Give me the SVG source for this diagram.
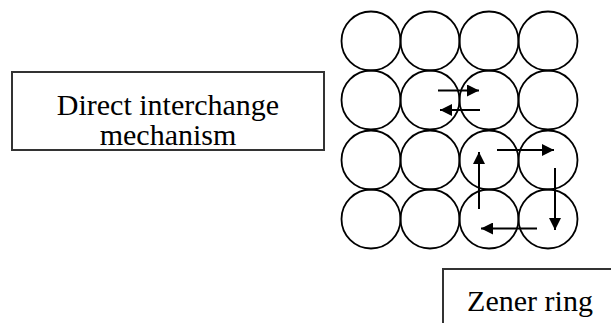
<svg xmlns="http://www.w3.org/2000/svg" width="611" height="323" viewBox="0 0 611 323">
<style>
.box{fill:#fff;stroke:#333;stroke-width:2}
.atom{fill:none;stroke:#000;stroke-width:1.8}
.arr{stroke:#000;stroke-width:2;fill:none;marker-end:url(#ah)}
.lbl{font-family:"Liberation Serif","Times New Roman",serif;font-size:30px;fill:#000;text-anchor:middle}
</style>
<defs>
<marker id="ah" viewBox="0 0 12 12" refX="12" refY="6" markerWidth="12" markerHeight="12" markerUnits="userSpaceOnUse" orient="auto">
<path d="M0,0 L12,6 L0,12 Z" fill="#000"/>
</marker>
</defs>
<rect width="611" height="323" fill="#fff"/>
<g id="direct-interchange">
<rect class="box" x="12" y="72" width="312" height="78"/>
<text class="lbl" x="168" y="115">Direct interchange</text>
<text class="lbl" x="168" y="145">mechanism</text>
</g>
<g id="zener-ring">
<rect class="box" x="443" y="269" width="180" height="70"/>
<text class="lbl" x="530" y="311">Zener ring</text>
</g>
<g id="lattice">
<circle class="atom" cx="371" cy="41" r="29.5"/>
<circle class="atom" cx="430" cy="41" r="29.5"/>
<circle class="atom" cx="489" cy="41" r="29.5"/>
<circle class="atom" cx="548" cy="41" r="29.5"/>
<circle class="atom" cx="371" cy="100" r="29.5"/>
<circle class="atom" cx="430" cy="100" r="29.5"/>
<circle class="atom" cx="489" cy="100" r="29.5"/>
<circle class="atom" cx="548" cy="100" r="29.5"/>
<circle class="atom" cx="371" cy="160" r="29.5"/>
<circle class="atom" cx="430" cy="160" r="29.5"/>
<circle class="atom" cx="489" cy="160" r="29.5"/>
<circle class="atom" cx="548" cy="160" r="29.5"/>
<circle class="atom" cx="371" cy="219" r="29.5"/>
<circle class="atom" cx="430" cy="219" r="29.5"/>
<circle class="atom" cx="489" cy="219" r="29.5"/>
<circle class="atom" cx="548" cy="219" r="29.5"/>
</g>
<g id="connectors">
<line class="arr" x1="438" y1="90.5" x2="479" y2="90.5"/>
<line class="arr" x1="480" y1="110" x2="440" y2="110"/>
<line class="arr" x1="497" y1="150" x2="554" y2="150"/>
<line class="arr" x1="555" y1="168" x2="555" y2="230"/>
<line class="arr" x1="537" y1="228.5" x2="481" y2="228.5"/>
<line class="arr" x1="479" y1="209" x2="479" y2="152"/>
</g>
</svg>
